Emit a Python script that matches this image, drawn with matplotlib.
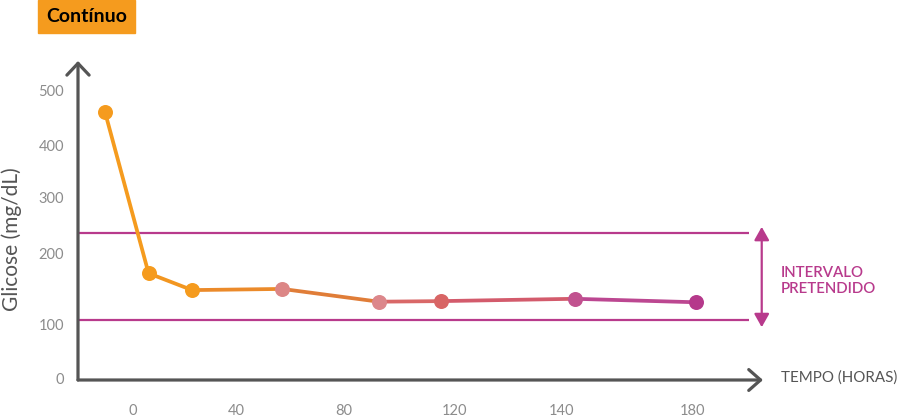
import matplotlib
matplotlib.use("Agg")
import matplotlib.pyplot as plt
from matplotlib.patches import Rectangle

# ---- data ----
hours = [-9, 5, 19, 48, 79, 99, 142, 181]
glucose = [462, 184, 155, 157, 135, 136, 140, 134]
target_low = 103
target_high = 254
x_tick_labels = ['0', '40', '80', '120', '140', '180']
y_tick_labels = ['0', '100', '200', '300', '400', '500']

# ---- styling / layout ----
x_tick_pos = [0, 33.1, 67.8, 103.5, 137.8, 180]
y_tick_pos = [2, 95, 218, 314, 405, 499]
point_colors = ['#F59B1E', '#F59B1E', '#F59B1E', '#DC8686', '#DC878B',
                '#D86565', '#C1528F', '#B5398B']
seg_colors = ['#F59B1E', '#F29620', '#EB8A2A', '#E07D38', '#D96868',
              '#D35B6C', '#BC4791']
axis_col = '#555555'
mag = '#B83A8C'
tick_col = '#8C8C8C'

plt.rcParams['font.family'] = ['Lato', 'DejaVu Sans']

W, H = 902, 417
fig = plt.figure(figsize=(W / 100, H / 100), dpi=100)
fig.patch.set_facecolor('white')

left_px, right_px, bottom_px, top_px = 78, 770, 380, 55
ax = fig.add_axes([left_px / W, 1 - bottom_px / H,
                   (right_px - left_px) / W, (bottom_px - top_px) / H])
xmin, xmax = -17.68, 204.76
ymin, ymax = 0, 560.3
ax.set_xlim(xmin, xmax)
ax.set_ylim(ymin, ymax)
for s in ax.spines.values():
    s.set_visible(False)
ax.set_facecolor('none')

# axes with arrows
ax.annotate('', xy=(202.5, 0), xytext=(xmin, 0), xycoords='data',
            arrowprops=dict(arrowstyle='->,head_length=0.85,head_width=0.75',
                            color=axis_col, lw=2.3, shrinkA=0, shrinkB=0,
                            mutation_scale=10),
            annotation_clip=False)
ax.annotate('', xy=(xmin, 550), xytext=(xmin, 0), xycoords='data',
            arrowprops=dict(arrowstyle='->,head_length=0.85,head_width=0.8',
                            color=axis_col, lw=2.3, shrinkA=0, shrinkB=0,
                            mutation_scale=10),
            annotation_clip=False)

# target range lines
for t in (target_low, target_high):
    ax.plot([xmin, 198], [t, t], color=mag, lw=1.6, solid_capstyle='butt',
            zorder=2)

# double arrow
ax.annotate('', xy=(202.1, target_high + 10), xytext=(202.1, target_low - 12),
            arrowprops=dict(arrowstyle='<|-|>,head_length=0.8,head_width=0.45',
                            color=mag, lw=1.6, shrinkA=0, shrinkB=0,
                            mutation_scale=10),
            annotation_clip=False)

# data line with gradient segments
for i in range(len(hours) - 1):
    ax.plot(hours[i:i + 2], glucose[i:i + 2], color=seg_colors[i], lw=2.7,
            solid_capstyle='round', zorder=3, clip_on=False)
for x, y, c in zip(hours, glucose, point_colors):
    ax.plot([x], [y], 'o', color=c, ms=10.8, mec='none', zorder=4,
            clip_on=False)

# ticks
ax.set_xticks(x_tick_pos)
ax.set_xticklabels(x_tick_labels)
ax.set_yticks(y_tick_pos)
ax.set_yticklabels(y_tick_labels)
ax.tick_params(axis='both', length=0, labelsize=10.5, labelcolor=tick_col)
ax.tick_params(axis='x', pad=17)
ax.tick_params(axis='y', pad=10)

# texts
fig.text(12 / W, 1 - 239 / H, 'Glicose (mg/dL)', rotation=90, ha='center',
         va='center', fontsize=15, color=axis_col)
fig.text(781 / W, 1 - 378 / H, 'TEMPO (HORAS)', ha='left', va='center',
         fontsize=10.9, color=axis_col)
fig.text(781 / W, 1 - 281 / H, 'INTERVALO\nPRETENDIDO', ha='left',
         va='center', fontsize=10.8, color=mag, fontweight='semibold',
         linespacing=1.2)

# title box
fig.patches.append(Rectangle((38 / W, 1 - 33 / H), 97 / W, 33 / H,
                             transform=fig.transFigure, color='#F59B1E',
                             zorder=0))
fig.text(86.5 / W, 1 - 17 / H, 'Contínuo', ha='center', va='center',
         fontsize=14, fontweight='bold', color='black')

fig.savefig('out.png', dpi=100)
